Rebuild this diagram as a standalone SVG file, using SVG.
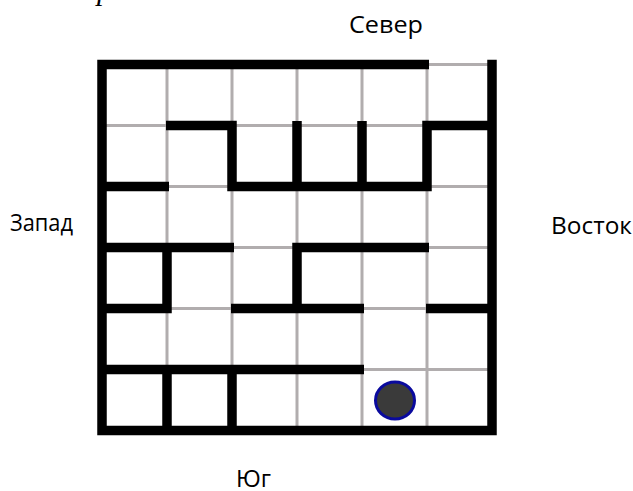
<svg xmlns="http://www.w3.org/2000/svg" width="633" height="491" viewBox="0 0 633 491">
<style>
.grid{stroke:#b1adae;stroke-width:3;fill:none}
.wall{stroke:#000;stroke-width:9.5;fill:none;stroke-linecap:butt;stroke-linejoin:miter}
.lbl{font-family:"Open Sans","Noto Sans","DejaVu Sans",sans-serif;font-size:23.5px;fill:#000}
</style>
<rect width="633" height="491" fill="#fff"/>
<text x="97" y="0" font-family="'Liberation Serif',serif" font-style="italic" font-size="30">р</text>
<g id="grid" class="grid">
<path d="M427 64.5H492M102 125.5H492M102 186.5H492M102 247.5H492M102 308.5H492M102 369.5H492"/>
<path d="M167 64.5V430.5M232 64.5V430.5M297 64.5V430.5M362 64.5V430.5M427 64.5V430.5"/>
</g>
<g id="connectors" class="wall">
<path d="M429 64.5H102V430.5H492V59.75"/>
<path d="M166 125.5H232V186.5H427V125.5H492"/>
<path d="M297 121V186.5"/>
<path d="M362 121V186.5"/>
<path d="M102 186.5H169"/>
<path d="M102 247.5H234"/>
<path d="M297 308.5V247.5H429"/>
<path d="M167 247.5V308.5H102"/>
<path d="M231 308.5H364"/>
<path d="M426 308.5H492"/>
<path d="M102 369.5H364"/>
<path d="M167 369.5V430.5"/>
<path d="M232 369.5V430.5"/>
</g>
<g id="ball">
<ellipse cx="395" cy="400.5" rx="19.5" ry="18.5" fill="#3a3a3a" stroke="#0a0a9e" stroke-width="3"/>
</g>
<g id="north"><text class="lbl" x="349" y="33" textLength="74" lengthAdjust="spacingAndGlyphs">Север</text></g>
<g id="west"><text class="lbl" x="10" y="231" textLength="63" lengthAdjust="spacingAndGlyphs">Запад</text></g>
<g id="east"><text class="lbl" x="551" y="234" textLength="81" lengthAdjust="spacingAndGlyphs">Восток</text></g>
<g id="south"><text class="lbl" x="236" y="487" textLength="35" lengthAdjust="spacingAndGlyphs">Юг</text></g>
</svg>
